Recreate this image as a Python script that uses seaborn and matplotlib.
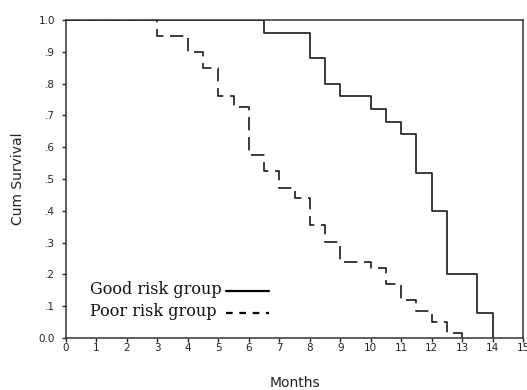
import matplotlib
matplotlib.use("Agg")
import matplotlib.pyplot as plt
import seaborn as sns
import pandas as pd
from matplotlib.lines import Line2D

# Kaplan-Meier step data
good_months = [0, 6.5, 8, 8.5, 9, 10, 10.5, 11, 11.5, 12, 12.5, 13.5, 14]
good_surv = [1.0, 0.96, 0.88, 0.80, 0.76, 0.72, 0.68, 0.64, 0.52, 0.40, 0.20, 0.08, 0.0]

poor_months = [0, 3, 4, 4.5, 5, 5.5, 6, 6.5, 7, 7.5, 8, 8.5, 9, 10, 10.5, 11, 11.5, 12, 12.5, 13]
poor_surv = [1.0, 0.95, 0.90, 0.85, 0.76, 0.725, 0.575, 0.525, 0.473, 0.44, 0.355,
             0.303, 0.24, 0.221, 0.169, 0.119, 0.086, 0.049, 0.017, 0.0]

group_labels = ["Good risk group", "Poor risk group"]
x_ticks = list(range(0, 16))
y_ticks = [0.0, 0.1, 0.2, 0.3, 0.4, 0.5, 0.6, 0.7, 0.8, 0.9, 1.0]
y_tick_labels = ["0.0", ".1", ".2", ".3", ".4", ".5", ".6", ".7", ".8", ".9", "1.0"]

df = pd.concat([
    pd.DataFrame({"Months": good_months, "Cum Survival": good_surv, "group": group_labels[0]}),
    pd.DataFrame({"Months": poor_months, "Cum Survival": poor_surv, "group": group_labels[1]}),
], ignore_index=True)

sns.set_style("white")
plt.rcParams["font.family"] = ["DejaVu Sans"]

fig = plt.figure(figsize=(5.27, 3.9), dpi=100)
ax = fig.add_axes([66 / 527, 1 - 338 / 390, (523 - 66) / 527, (338 - 20) / 390])

line_col = "#1a1a1a"
sns.lineplot(data=df, x="Months", y="Cum Survival", style="group",
             dashes={group_labels[0]: "", group_labels[1]: (8, 4)},
             color=line_col, linewidth=1.2, drawstyle="steps-post",
             estimator=None, sort=False, legend=False, ax=ax)

ax.set_xlim(0, 15)
ax.set_ylim(0, 1.0)
ax.set_xticks(x_ticks)
ax.set_xticklabels([str(t) for t in x_ticks])
ax.set_yticks(y_ticks)
ax.set_yticklabels(y_tick_labels)

for s in ax.spines.values():
    s.set_visible(True)
    s.set_color("#333333")
    s.set_linewidth(1.1)

ax.tick_params(axis="x", direction="out", length=3, width=1, pad=0.5,
               labelsize=7.5, colors="#222222", bottom=True)
ax.tick_params(axis="y", direction="out", length=3, width=1, pad=5,
               labelsize=7.5, colors="#222222", left=True)

ax.set_xlabel("Months", fontsize=10, color="#222222")
ax.set_ylabel("Cum Survival", fontsize=10, color="#222222")
ax.xaxis.set_label_coords(0.5, -(383 - 338) / 318)
ax.xaxis.label.set_va("center")
ax.yaxis.set_label_coords(-(66 - 18) / 457, 0.5)
ax.yaxis.label.set_va("center")

# legend: left-aligned labels, line samples in a shared column to the right
legend_font = {"family": "DejaVu Serif", "size": 11.5}
baselines = [293.5, 315.5]
for lab, yy in zip(group_labels, baselines):
    fig.text(90 / 527, 1 - yy / 390, lab, ha="left", va="baseline",
             fontdict=legend_font, color="#111111")

handles = [Line2D([], [], color="black", linewidth=1.6),
           Line2D([], [], color="black", linewidth=1.6, dashes=(3, 3))]
leg = ax.legend(handles, ["", ""], loc="center left",
                bbox_to_anchor=(226 / 527, 1 - 303 / 390), bbox_transform=fig.transFigure,
                frameon=False, handlelength=2.7, handletextpad=0,
                labelspacing=0.32, borderpad=0, borderaxespad=0,
                prop=legend_font)

fig.savefig("out.png", dpi=100, facecolor="white")
